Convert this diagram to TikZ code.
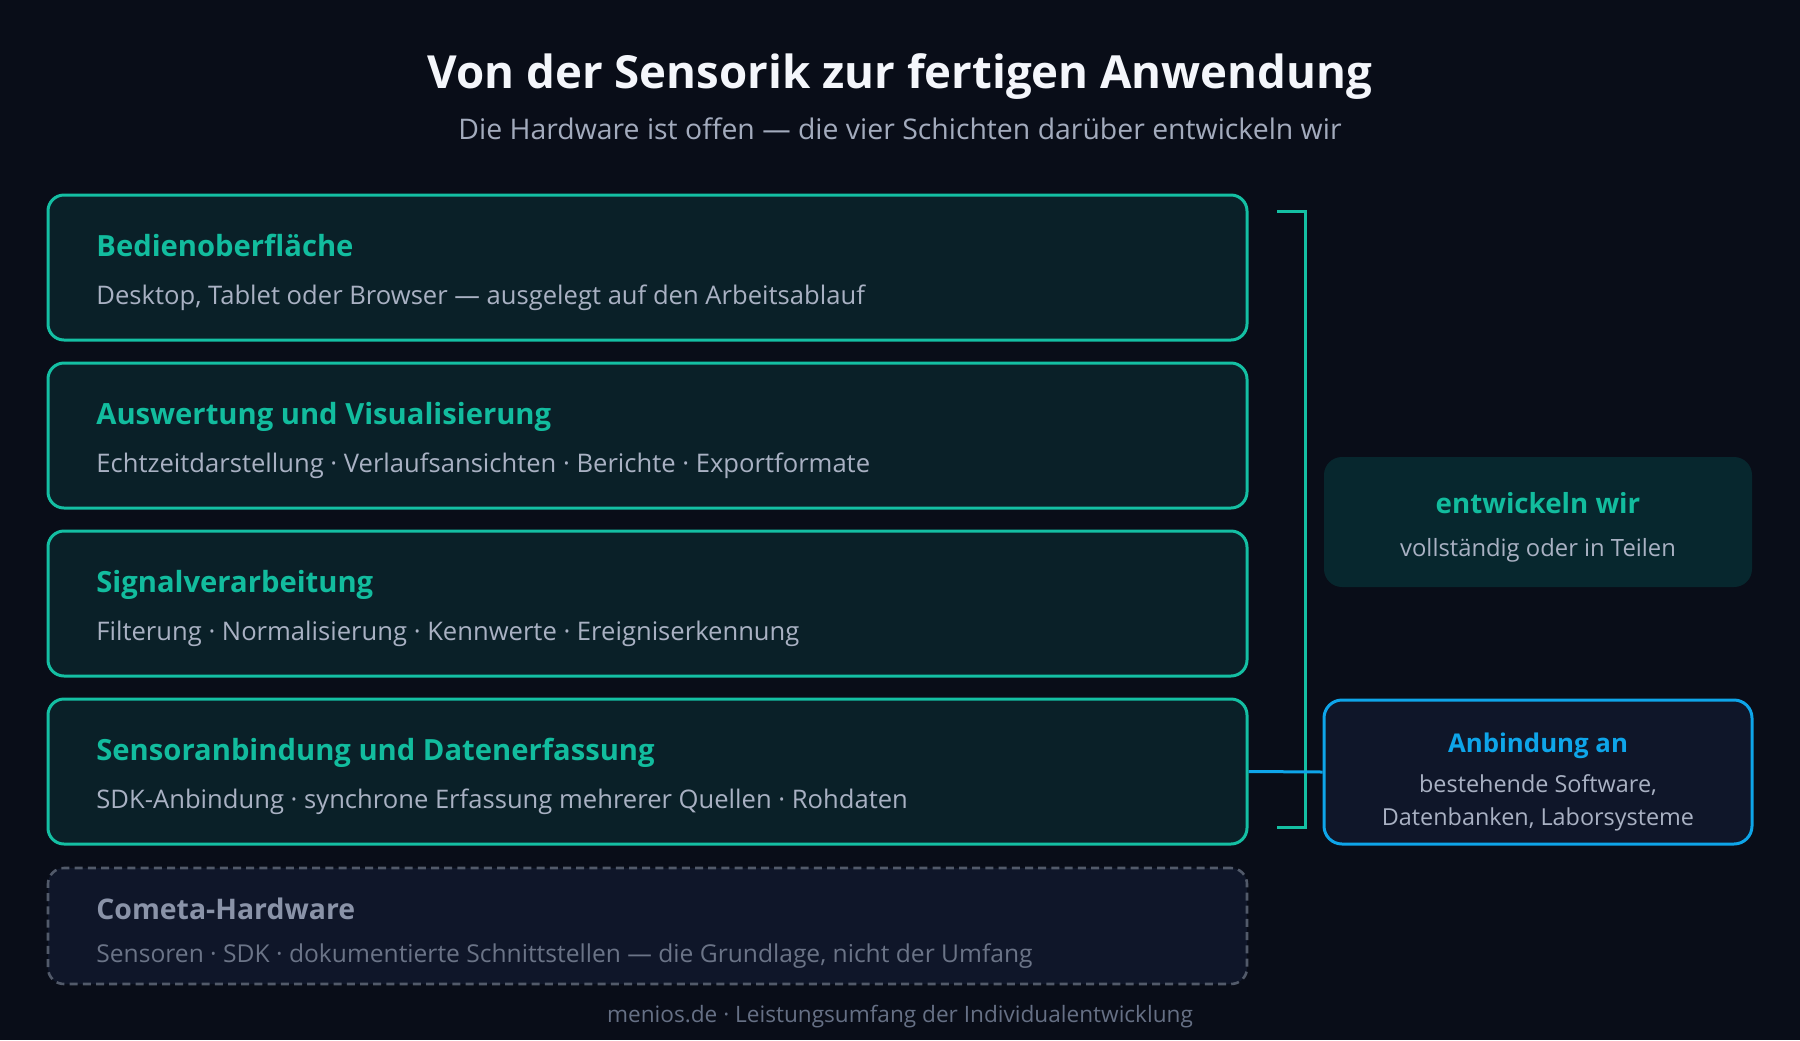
\documentclass[tikz,border=0pt]{standalone}
\usepackage{fontspec}
\setmainfont{Open Sans}
\definecolor{bg}{HTML}{090D18}
\definecolor{layerfill}{HTML}{0A2028}
\definecolor{teal}{HTML}{14BFA3}
\definecolor{tealtext}{HTML}{12BC9E}
\definecolor{desctext}{HTML}{A9B1C3}
\definecolor{skyblue}{HTML}{0EA5E9}
\definecolor{navyfill}{HTML}{0F1629}
\definecolor{hwstroke}{HTML}{525A6A}
\definecolor{hwtitle}{HTML}{8A93A8}
\definecolor{hwdesc}{HTML}{6B7487}
\definecolor{entfill}{HTML}{07272E}
\definecolor{titletext}{HTML}{F4F6FB}
\definecolor{subtext}{HTML}{A3ABBD}
\definecolor{foot}{HTML}{667085}
\begin{document}
\begin{tikzpicture}[x=0.5pt,y=-0.5pt,
  layerbox/.style={draw=teal,line width=1.5pt,fill=layerfill,rounded corners=8pt,
    minimum width=599.5pt,minimum height=72.5pt,inner sep=0pt},
  hwbox/.style={draw=hwstroke,line width=1.3pt,dash pattern=on 4pt off 2.6pt,fill=navyfill,rounded corners=8pt,
    minimum width=599.5pt,minimum height=58pt,inner sep=0pt},
  layertitle/.style={anchor=base west,inner sep=0pt,text=tealtext,font=\fontsize{14.6}{17}\selectfont\bfseries},
  layerdesc/.style={anchor=base west,inner sep=0pt,text=desctext,font=\fontsize{12.8}{15}\selectfont},
  sidetitle/.style={anchor=base,inner sep=0pt,font=\fontsize{13.4}{16}\selectfont\bfseries},
  sidedesc/.style={anchor=base,inner sep=0pt,text=desctext,font=\fontsize{11.7}{14}\selectfont},
]
\fill[bg] (0,0) rectangle (1800,1040);
\useasboundingbox (0,0) rectangle (1800,1040);

\node[anchor=base,inner sep=0pt,text=titletext,font=\fontsize{22.8}{27}\selectfont\bfseries] (title) at (900,88) {Von der Sensorik zur fertigen Anwendung};
\node[anchor=base,inner sep=0pt,text=subtext,font=\fontsize{14.2}{17}\selectfont] (sub) at (900,139) {Die Hardware ist offen — die vier Schichten darüber entwickeln wir};

% layers
\node[layerbox] (l1) at (647.5,267.5) {};
\node[layerbox] (l2) at (647.5,435.5) {};
\node[layerbox] (l3) at (647.5,603.5) {};
\node[layerbox] (l4) at (647.5,771.5) {};
\node[hwbox] (hw) at (647.5,926) {};

\node[layertitle] (t1) at (96,256) {Bedienoberfläche};
\node[layerdesc] (d1) at (96,304) {Desktop, Tablet oder Browser — ausgelegt auf den Arbeitsablauf};
\node[layertitle] (t2) at (96,424) {Auswertung und Visualisierung};
\node[layerdesc] (d2) at (96,472) {Echtzeitdarstellung · Verlaufsansichten · Berichte · Exportformate};
\node[layertitle] (t3) at (96,592) {Signalverarbeitung};
\node[layerdesc] (d3) at (96,640) {Filterung · Normalisierung · Kennwerte · Ereigniserkennung};
\node[layertitle] (t4) at (96,760) {Sensoranbindung und Datenerfassung};
\node[layerdesc] (d4) at (96,808) {SDK-Anbindung · synchrone Erfassung mehrerer Quellen · Rohdaten};
\node[layertitle,text=hwtitle,font=\fontsize{14.2}{17}\selectfont\bfseries] (t5) at (96,919) {Cometa-Hardware};
\node[layerdesc,text=hwdesc,font=\fontsize{12.3}{15}\selectfont] (d5) at (96,962) {Sensoren · SDK · dokumentierte Schnittstellen — die Grundlage, nicht der Umfang};

% bracket
\coordinate (bt) at (1277,211);
\coordinate (bb) at (1277,827);
\draw[teal,line width=1.5pt] (bt) -- (1305,211) -- (1305,827) -- (bb);

% side boxes
\node[fill=entfill,rounded corners=9pt,minimum width=214pt,minimum height=65pt,inner sep=0pt] (ent) at (1538,522) {};
\node[sidetitle,text=tealtext,font=\fontsize{13.85}{16}\selectfont\bfseries] (entt) at (1538,513) {entwickeln wir};
\node[sidedesc,font=\fontsize{11.9}{14}\selectfont] (entd) at (1538,556) {vollständig oder in Teilen};

\node[draw=skyblue,line width=1.5pt,fill=navyfill,rounded corners=9pt,minimum width=214pt,minimum height=72pt,inner sep=0pt] (anb) at (1538,772) {};
\node[sidetitle,text=skyblue,font=\fontsize{12.9}{16}\selectfont\bfseries] (anbt) at (1538,752) {Anbindung an};
\node[sidedesc] (anbd1) at (1538,792) {bestehende Software,};
\node[sidedesc] (anbd2) at (1538,825) {Datenbanken, Laborsysteme};

\draw[skyblue,line width=1.5pt] (l4.east) -- (anb.west);

\node[anchor=base,inner sep=0pt,text=foot,font=\fontsize{11.3}{14}\selectfont] (footer) at (900,1022) {menios.de · Leistungsumfang der Individualentwicklung};
\end{tikzpicture}
\end{document}
